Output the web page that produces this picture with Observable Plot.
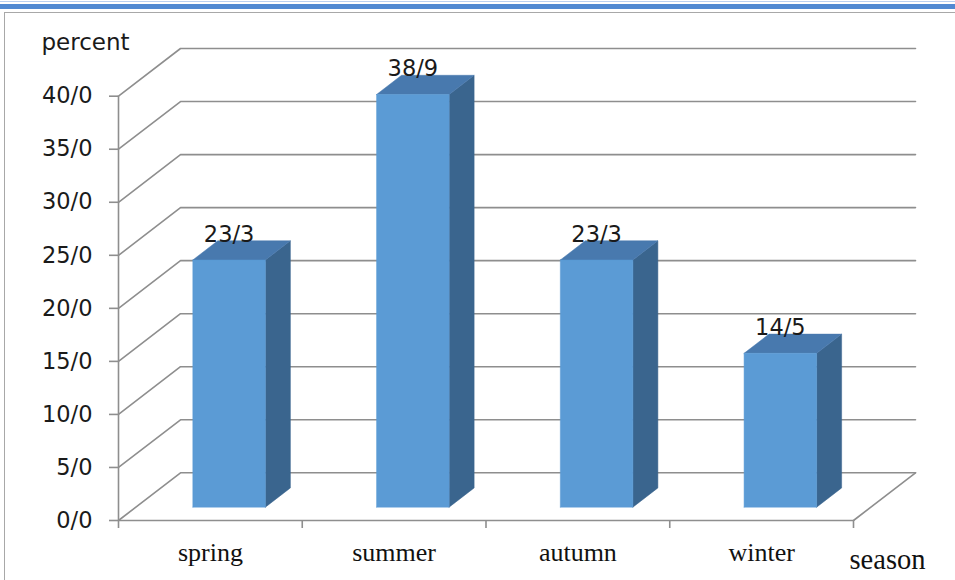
<!DOCTYPE html>
<html>
<head>
<meta charset="utf-8">
<script src="https://cdn.jsdelivr.net/npm/d3@7"></script>
<script src="https://cdn.jsdelivr.net/npm/@observablehq/plot@0.6"></script>
<style>
  html, body { margin: 0; padding: 0; background: #fff; }
  #wrap { position: relative; width: 955px; height: 580px; overflow: hidden; }
  .rule-thin { position: absolute; left: 0; top: 1px; width: 100%; height: 1px; background: #b9cff0; }
  .band { position: absolute; left: 0; top: 4px; width: 100%; height: 5px; background: #5189d2; }
  .frame { position: absolute; left: 4px; top: 12px; width: 1000px; height: 1000px;
           border-left: 1.5px solid #a8a8a8; border-top: 1.5px solid #a8a8a8; }
  #chart { position: absolute; left: 0; top: 0; }
</style>
</head>
<body>
<div id="wrap">
  <div class="rule-thin"></div>
  <div class="band"></div>
  <div class="frame"></div>
  <div id="chart"></div>
</div>
<script>
// Share of cases by season (percent)
const seasons = ["spring", "summer", "autumn", "winter"];
const percents = [23.3, 38.9, 23.3, 14.5];
const yTicks = [0, 5, 10, 15, 20, 25, 30, 35, 40];
const xTicks = [0, 1, 2, 3, 4];

// Decimal separator shown as a slash, e.g. 23/3
const fmt = d => d.toFixed(1).replace(".", "/");

// Layout
const W = 955, H = 580;
const mL = 118, mR = 102, mT = 95.7, mB = 60;
const xu = 4 / (W - mL - mR);    // x data units per pixel
const yu = 40 / (H - mT - mB);   // y data units per pixel

// Oblique depth of the 3-D box, in pixels (full depth of floor/walls)
const DX = 62 * xu, DY = 47.7 * yu;
const proj = (x, y, t) => ({x: x + t * DX, y: y + t * DY});

// Bar geometry within a band (fractions of band) and its depth slice
const b0 = 0.31, b1 = 0.705, t0 = 0.28, t1 = 0.683;

const gray = "#8e8e8e";

// Back wall + side wall gridlines: front axis → back corner → right end
const grid = yTicks.flatMap(v => [proj(0, v, 0), proj(0, v, 1), proj(4, v, 1)].map(p => ({...p, id: v})));
const floorEdges = [
  ...[proj(0, 0, 0), proj(4, 0, 0)].map(p => ({...p, id: "front"})),
  ...[proj(4, 0, 0), proj(4, 0, 1)].map(p => ({...p, id: "right"}))
];

const fronts = [], tops = [], sides = [];
percents.forEach((v, i) => {
  const L = i + b0, R = i + b1;
  [[L, 0, t0], [R, 0, t0], [R, v, t0], [L, v, t0], [L, 0, t0]]
    .forEach(([x, y, t]) => fronts.push({...proj(x, y, t), id: i}));
  [[L, v, t0], [R, v, t0], [R, v, t1], [L, v, t1], [L, v, t0]]
    .forEach(([x, y, t]) => tops.push({...proj(x, y, t), id: i}));
  [[R, 0, t0], [R, v, t0], [R, v, t1], [R, 0, t1], [R, 0, t0]]
    .forEach(([x, y, t]) => sides.push({...proj(x, y, t), id: i}));
});

const valueLabels = percents.map((v, i) => ({
  x: i + (b0 + b1) / 2 + t0 * DX,
  y: v + t1 * DY,
  text: fmt(v)
}));

const sans = "DejaVu Sans";
const serif = "Liberation Serif";

const chart = Plot.plot({
  width: W,
  height: H,
  marginLeft: mL, marginRight: mR, marginTop: mT, marginBottom: mB,
  x: {domain: [0, 4], axis: null},
  y: {domain: [0, 40], axis: null},
  style: {background: "transparent", overflow: "visible", fontFamily: sans, color: "#111"},
  marks: [
    // walls and floor
    Plot.line(grid, {x: "x", y: "y", z: "id", stroke: gray, strokeWidth: 1.6}),
    Plot.line(floorEdges, {x: "x", y: "y", z: "id", stroke: gray, strokeWidth: 1.6}),
    // value axis line and ticks
    Plot.ruleX([0], {y1: 0, y2: 40, stroke: gray, strokeWidth: 1.6}),
    Plot.ruleY(yTicks, {x1: -9 * xu, x2: 0, stroke: gray, strokeWidth: 1.6}),
    Plot.ruleX(xTicks, {y1: 0, y2: -8 * yu, stroke: gray, strokeWidth: 1.6}),
    Plot.text(yTicks, {x: 0, y: d => d, text: fmt, textAnchor: "end", dx: -26, fontSize: 22.5, fill: "#1a1a1a"}),
    // 3-D bars
    Plot.line(sides, {x: "x", y: "y", z: "id", fill: "#3a658e", stroke: "#3a658e", strokeWidth: 0.5}),
    Plot.line(tops, {x: "x", y: "y", z: "id", fill: "#4879ae", stroke: "#4879ae", strokeWidth: 0.5}),
    Plot.line(fronts, {x: "x", y: "y", z: "id", fill: "#5b9bd5", stroke: "#5b9bd5", strokeWidth: 0.5}),
    // value labels
    Plot.text(valueLabels, {x: "x", y: "y", text: "text", lineAnchor: "bottom", dy: 1, fontSize: 22.5, fill: "#1a1a1a"}),
    // category labels
    Plot.text(seasons, {x: (d, i) => i + 0.5, y: 0, dy: 40, lineAnchor: "bottom", fontFamily: serif, fontSize: 26, fill: "#111"}),
    // axis titles
    Plot.text(["percent"], {frameAnchor: "top-left", dx: -77, dy: -46, textAnchor: "start", lineAnchor: "bottom", fontSize: 23, fill: "#1a1a1a"}),
    Plot.text(["season"], {frameAnchor: "bottom-right", dx: 34, dy: 48, textAnchor: "middle", lineAnchor: "bottom", fontFamily: serif, fontSize: 28.5, fill: "#111"})
  ]
});

document.getElementById("chart").appendChild(chart);
</script>
</body>
</html>
